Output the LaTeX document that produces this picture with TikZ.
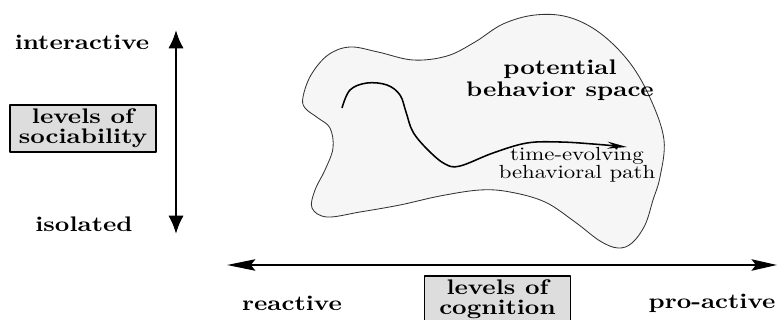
\documentclass[tikz,border=0pt]{standalone}
\usepackage{fontspec}
\newfontfamily\labfont{lmroman10-bold}[Extension=.otf,FakeStretch=1.2]
\newfontfamily\pathfont{lmroman10-regular}[Extension=.otf,FakeStretch=1.2]
\usetikzlibrary{arrows.meta}
\begin{document}
\begin{tikzpicture}[x=0.025cm,y=-0.025cm,line join=round,
  lab/.style={font=\fontsize{15}{14.5}\labfont,align=center,inner sep=0pt},
  levelbox/.style={lab,draw,line width=1.3pt,fill=gray!27,minimum width=3.65cm,minimum height=1.17cm},
  vaxis/.style={line width=2pt,{Latex[length=13pt,width=11pt]}-{Latex[length=13pt,width=11pt]}},
  haxis/.style={line width=2pt,{Stealth[length=20pt,width=8pt,inset=3pt]}-{Stealth[length=18pt,width=8pt,inset=3pt]}}]
\useasboundingbox (0,0) rectangle (777,320);
\clip (0,0) rectangle (777,320);
% sociability axis
\coordinate (soctop) at (176,30);
\coordinate (socbot) at (176,234);
\draw[vaxis] (socbot)--(soctop);
\node[lab] (inter) at (82,42) {interactive};
\node[levelbox] (soc) at (83,128.5) {levels of\\sociability};
\node[lab] (isol) at (84,224) {isolated};
% cognition axis
\coordinate (cogleft) at (227,265);
\coordinate (cogright) at (777,265);
\draw[haxis] (cogleft)--(cogright);
\node[lab] (react) at (292,303) {reactive};
\node[levelbox] (cog) at (497.5,299.5) {levels of\\cognition};
\node[lab] (proact) at (712,303) {pro-active};
% behavior space
\draw[gray!40!black,line width=0.6pt,fill=gray!7] plot[smooth cycle,tension=0.6] coordinates {
  (303,97) (311,75) (328,55) (350,47) (378,52) (413,60) (447,56) (475,42) (503,24)
  (535,15) (568,17) (600,33) (630,63) (651,100) (664,140) (660,177) (653,200)
  (645,225) (632,243) (618,248) (600,241) (575,222) (545,202) (510,192) (480,190)
  (440,196) (400,205) (360,212) (327,217) (312,208) (315,190) (325,170) (333,148)
  (330,128) (318,118) (305,108)};
\node[lab,font=\fontsize{15}{15.5}\labfont] (space) at (560,80) {potential\\behavior space};
\draw[line width=1.1pt,-{Stealth[length=14pt,width=5pt]}] plot[smooth,tension=0.6] coordinates {
  (342,108) (350,90) (367,83) (387,85) (400,95) (406,112) (413,132) (428,150)
  (445,164) (460,166) (493,153) (527,143) (560,142) (593,144) (627,147)};
\node[align=center,inner sep=0pt,font=\fontsize{13.5}{12.5}\pathfont] (pathlab) at (577,165) {time-evolving\\behavioral path};
\end{tikzpicture}
\end{document}
